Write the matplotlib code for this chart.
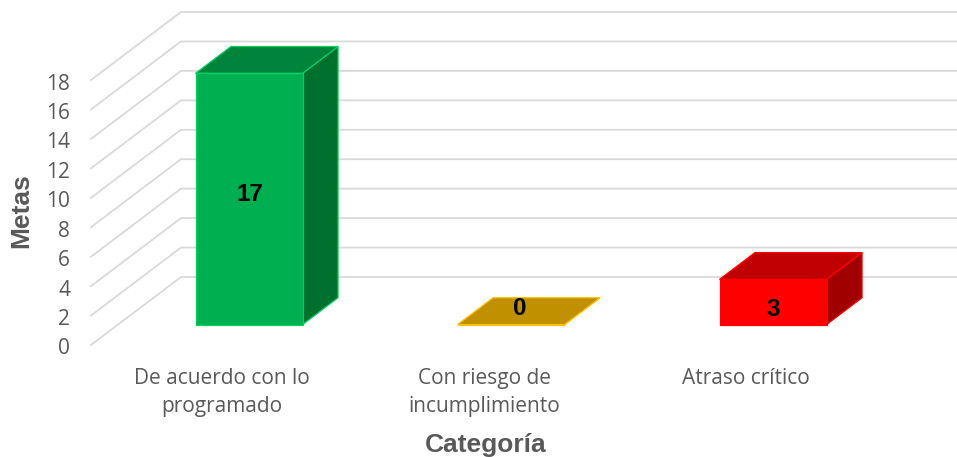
import matplotlib
matplotlib.use('Agg')
import matplotlib.pyplot as plt
from matplotlib.patches import Polygon
from matplotlib.transforms import ScaledTranslation

categories = ['De acuerdo con lo\nprogramado', 'Con riesgo de\nincumplimiento', 'Atraso crítico']
metas = [17, 0, 3]
y_ticks = [0, 2, 4, 6, 8, 10, 12, 14, 16, 18]

front_colors = ['#00B050', '#FFC000', '#FF0000']
top_colors = ['#00843C', '#C09000', '#C00000']
side_colors = ['#00702F', '#A07800', '#A00000']
edge_colors = ['#00D060', '#FFC000', '#FF0000']
label_offsets = [(1, 5), (9, 16), (0, -7)]  # px, ajuste de etiquetas

W, H = 957, 457
AX_L, AX_B, AX_W, AX_H = 91, 112, 786, 265
GRAY = '#595959'

fig = plt.figure(figsize=(W / 100, H / 100), dpi=100)
ax = fig.add_axes([AX_L / W, AX_B / H, AX_W / W, AX_H / H])
ax.set_xlim(-0.5, 2.5)
ax.set_ylim(0, 18)

# profundidad de la caja 3D, en unidades de datos
px_x = (2.5 + 0.5) / AX_W
px_y = 18 / AX_H
depth_x = 90 * px_x
depth_y = 68 * px_y


def at(x, v, d):
    return (x + d * depth_x, v + d * depth_y)


# lineas de cuadricula
for v in y_ticks:
    p0 = at(-0.5, v, 0)
    p1 = at(-0.5, v, 1)
    p2 = at(2.5, v, 1)
    ax.plot([p0[0], p1[0], p2[0]], [p0[1], p1[1], p2[1]], color='#D9D9D9', lw=1.3,
            clip_on=False, zorder=1, solid_joinstyle='miter')

# barras
bar_w = 107 * px_x
d0, d1 = 0.30, 0.695
cap = 1 * px_y  # la tapa queda un poco por encima en el original
for i, val in enumerate(metas):
    x0, x1 = i - bar_w / 2, i + bar_w / 2
    h = val + cap if val > 0 else 0
    front = [at(x0, 0, d0), at(x1, 0, d0), at(x1, h, d0), at(x0, h, d0)]
    side = [at(x1, 0, d0), at(x1, 0, d1), at(x1, h, d1), at(x1, h, d0)]
    top = [at(x0, h, d0), at(x1, h, d0), at(x1, h, d1), at(x0, h, d1)]
    for pts, col in [(side, side_colors[i]), (top, top_colors[i]), (front, front_colors[i])]:
        ax.add_patch(Polygon(pts, closed=True, facecolor=col, edgecolor=edge_colors[i],
                             lw=0.9, clip_on=False, zorder=3))
    ax.annotate(str(val), xy=at(i, val / 2, d0), xytext=(label_offsets[i][0] * 0.72, label_offsets[i][1] * 0.72),
                textcoords='offset points', ha='center', va='center', color='black',
                fontsize=17.5, fontweight='bold', family='Liberation Sans', zorder=5)

for s in ax.spines.values():
    s.set_visible(False)
ax.set_xticks(range(len(categories)))
ax.set_xticklabels(categories, family='Open Sans', fontsize=15, color=GRAY, linespacing=1.43)
ax.set_yticks(y_ticks)
ax.set_yticklabels([str(t) for t in y_ticks], family='Open Sans', fontsize=15, color=GRAY)
ax.tick_params(axis='both', length=0)
ax.tick_params(axis='y', pad=15)
ax.tick_params(axis='x', pad=16.5)

# bajar un poco los numeros del eje y
shift = ScaledTranslation(0, -1.5 / 100, fig.dpi_scale_trans)
for lab in ax.get_yticklabels():
    lab.set_transform(lab.get_transform() + shift)

ax.set_xlabel('Categoría', family='Liberation Sans', fontsize=19, fontweight='bold', color=GRAY)
ax.xaxis.set_label_coords(0.5025, -0.331)
ax.set_ylabel('Metas', family='Liberation Sans', fontsize=19, fontweight='bold', color=GRAY)
ax.yaxis.set_label_coords(-0.074, 0.508)

fig.savefig('out.png', dpi=100)
